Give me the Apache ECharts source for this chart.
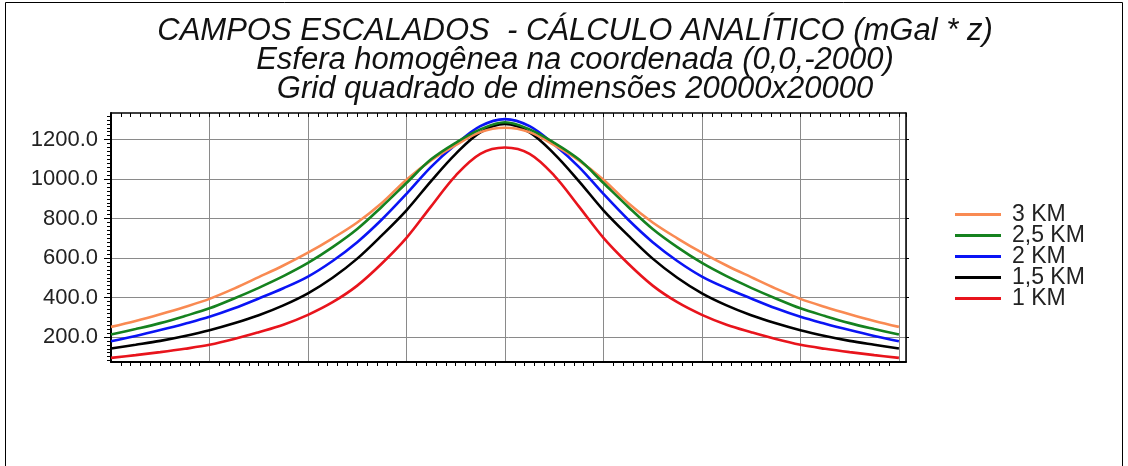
<!DOCTYPE html>
<html><head><meta charset="utf-8">
<script src="https://cdn.jsdelivr.net/npm/echarts@6/dist/echarts.min.js"></script>
<style>html,body{margin:0;padding:0;background:#fff}#c{width:1128px;height:466px}</style>
</head><body><div id="c"></div>
<script>
const titleLines = [
  'CAMPOS ESCALADOS  - CÁLCULO ANALÍTICO (mGal * z)',
  'Esfera homogênea na coordenada (0,0,-2000)',
  'Grid quadrado de dimensões 20000x20000'
];
const seriesNames = ['3 KM', '2,5 KM', '2 KM', '1,5 KM', '1 KM'];
const seriesColors = ['#F98A52', '#15821F', '#0A14F5', '#000000', '#E8141C'];
const xValues = [-10000, -9375, -8750, -8125, -7500, -6875, -6250, -5625, -5000, -4375, -3750, -3125, -2500, -1875, -1250, -625, 0,
                 625, 1250, 1875, 2500, 3125, 3750, 4375, 5000, 5625, 6250, 6875, 7500, 8125, 8750, 9375, 10000];
const km3  = [251, 281, 315, 352, 393, 445, 503, 562, 627, 700, 780, 879, 997, 1095, 1172, 1238, 1260,
              1238, 1172, 1095, 997, 879, 780, 700, 627, 562, 503, 445, 393, 352, 315, 281, 251];
const km25 = [212, 240, 270, 306, 345, 395, 449, 508, 575, 655, 747, 860, 980, 1100, 1184, 1252, 1288,
              1252, 1184, 1100, 980, 860, 747, 655, 575, 508, 449, 395, 345, 306, 270, 240, 212];
const km2  = [178, 205, 235, 267, 302, 345, 395, 447, 506, 585, 680, 795, 925, 1062, 1175, 1268, 1304,
              1268, 1175, 1062, 925, 795, 680, 585, 506, 447, 395, 345, 302, 267, 235, 205, 178];
const km15 = [141, 160, 180, 205, 234, 269, 310, 360, 421, 500, 597, 715, 842, 990, 1128, 1237, 1280,
              1237, 1128, 990, 842, 715, 597, 500, 421, 360, 310, 269, 234, 205, 180, 160, 141];
const km1  = [94, 108, 123, 140, 160, 189, 224, 262, 312, 376, 460, 572, 702, 862, 1018, 1128, 1160,
              1128, 1018, 862, 702, 572, 460, 376, 312, 262, 224, 189, 160, 140, 123, 108, 94];
const yTickValues = [200, 400, 600, 800, 1000, 1200];
const yMin = 73, yMax = 1335;
const xMin = -10000, xMax = 10180, xInterval = 2500;

const yMinorValues = [];
for (let v = 80; v <= 1320; v += 20) yMinorValues.push(v);

const allSeries = [km3, km25, km2, km15, km1];
const drawOrder = [4, 3, 2, 0, 1];
const FONT = 'Liberation Sans, Arial, sans-serif';

const chart = echarts.init(document.getElementById('c'), null, {renderer: 'canvas'});
const series = drawOrder.map((i, k) => ({
  name: seriesNames[i],
  type: 'line',
  data: xValues.map((x, j) => [x, allSeries[i][j]]),
  showSymbol: false,
  smooth: 0.35,
  lineStyle: {width: 2.6, color: seriesColors[i]},
  itemStyle: {color: seriesColors[i]},
  z: 3 + k,
  animation: false
}));

chart.setOption({
  animation: false,
  backgroundColor: '#fff',
  graphic: [
    {type: 'rect', shape: {x: 5.5, y: 2.5, width: 1117, height: 475}, style: {fill: 'none', stroke: '#000', lineWidth: 1}, silent: true},
    ...titleLines.map((t, i) => ({
      type: 'text', x: 575, y: 31 + i * 29,
      style: {text: t, fill: '#111', font: 'italic 31px ' + FONT, textAlign: 'center', textVerticalAlign: 'middle'}
    }))
  ],
  grid: {left: 111, top: 113, right: 222, bottom: 104, show: false},
  legend: {
    orient: 'vertical', left: 955, top: 203, padding: 0, itemWidth: 46, itemHeight: 3, itemGap: -2, icon: 'rect',
    textStyle: {fontSize: 23, fontFamily: FONT, color: '#222', lineHeight: 21, padding: [0, 0, 0, 6]},
    data: seriesNames
  },
  xAxis: [
    {type: 'value', min: xMin, max: xMax, interval: xInterval, position: 'bottom',
     axisLine: {show: true, onZero: false, lineStyle: {color: '#000', width: 2}},
     axisTick: {show: false}, axisLabel: {show: false},
     minorTick: {show: true, splitNumber: 10, length: 4, lineStyle: {color: '#000', width: 1}},
     splitLine: {show: true, lineStyle: {color: '#8a8a8a', width: 1}}},
    {type: 'value', min: xMin, max: xMax, interval: xInterval, position: 'top',
     axisLine: {show: true, onZero: false, lineStyle: {color: '#000', width: 1.5}},
     axisTick: {show: true, inside: true, length: 4, lineStyle: {color: '#000'}}, axisLabel: {show: false},
     minorTick: {show: true, splitNumber: 10, length: 4, lineStyle: {color: '#000', width: 1}},
     splitLine: {show: false}}
  ],
  yAxis: [
    {type: 'value', min: yMin, max: yMax, position: 'left',
     axisLine: {show: true, onZero: false, lineStyle: {color: '#000', width: 2}},
     axisTick: {show: true, customValues: yTickValues, length: 7, lineStyle: {color: '#000', width: 1}},
     axisLabel: {show: true, customValues: yTickValues, formatter: v => v.toFixed(1), fontSize: 22, fontFamily: FONT, color: '#222', margin: 13},
     splitLine: {show: true, lineStyle: {color: '#8a8a8a', width: 1}}},
    {type: 'value', min: yMin, max: yMax, position: 'left',
     axisLine: {show: false, onZero: false},
     axisTick: {show: true, customValues: yMinorValues, length: 4, lineStyle: {color: '#000', width: 1}},
     axisLabel: {show: false}, splitLine: {show: false}},
    {type: 'value', min: yMin, max: yMax, position: 'right',
     axisLine: {show: true, onZero: false, lineStyle: {color: '#000', width: 1.5}},
     axisTick: {show: true, customValues: yTickValues, length: 3, lineStyle: {color: '#000', width: 1}},
     axisLabel: {show: false}, splitLine: {show: false}}
  ],
  series: series
});
</script>
</body></html>
